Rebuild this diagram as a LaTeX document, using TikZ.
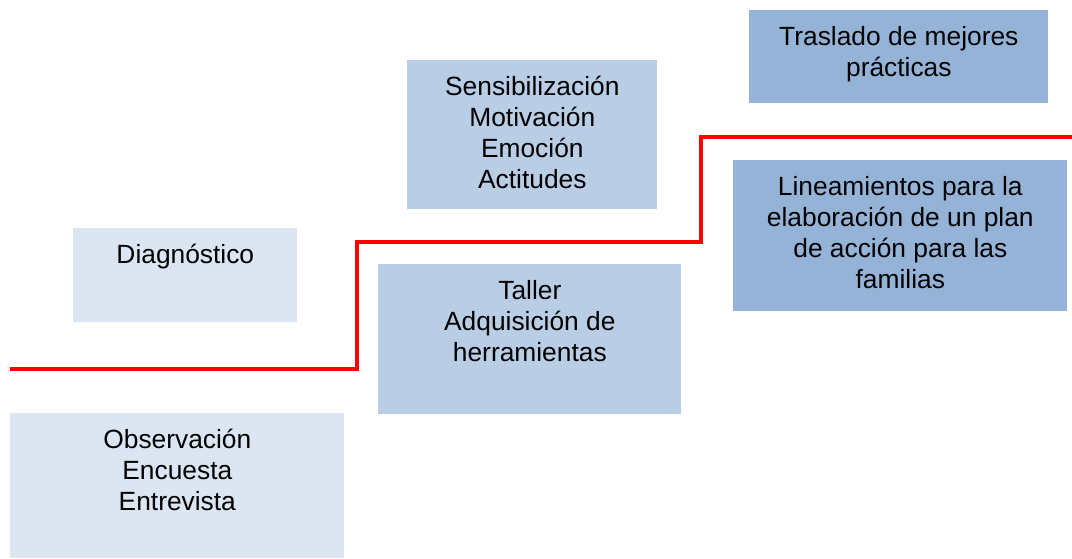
\documentclass[tikz,border=0pt]{standalone}
\usepackage{fontspec}
\setmainfont{Liberation Sans}
\usetikzlibrary{positioning}
\definecolor{boxa}{HTML}{DCE6F2}
\definecolor{boxb}{HTML}{B9CDE5}
\definecolor{boxc}{HTML}{95B3D7}
\begin{document}
\begin{tikzpicture}[x=0.02cm, y=-0.02cm,
  box/.style={draw=none, inner sep=0, anchor=north west},
  txt/.style={anchor=north, align=center, inner sep=0, font=\fontsize{15}{17.6}\selectfont},
  stair/.style={draw=red, line width=0.08cm}]
\useasboundingbox (0,0) rectangle (1072,558);
\node [box, fill=boxa, minimum width=4.48cm, minimum height=1.88cm] (0) at (73,228) {};
\node [box, fill=boxa, minimum width=6.68cm, minimum height=2.9cm] (1) at (10,413) {};
\node [box, fill=boxb, minimum width=5cm, minimum height=2.98cm] (2) at (407,60) {};
\node [box, fill=boxb, minimum width=6.06cm, minimum height=3cm] (3) at (378,264) {};
\node [box, fill=boxc, minimum width=5.98cm, minimum height=1.86cm] (4) at (749,10) {};
\node [box, fill=boxc, minimum width=6.68cm, minimum height=3.02cm] (5) at (733,160) {};
\node [txt, below=0.32cm of 0.north] (0t) {Diagnóstico};
\node [txt, below=0.32cm of 1.north] (1t) {Observación\\Encuesta\\Entrevista};
\node [txt, below=0.32cm of 2.north] (2t) {Sensibilización\\Motivación\\Emoción\\Actitudes};
\node [txt, below=0.32cm of 3.north] (3t) {Taller\\Adquisición de\\herramientas};
\node [txt, below=0.32cm of 4.north] (4t) {Traslado de mejores\\prácticas};
\node [txt, below=0.32cm of 5.north] (5t) {Lineamientos para la\\elaboración de un plan\\de acción para las\\familias};
\coordinate (6) at (10,369);
\coordinate (7) at (357,369);
\coordinate (8) at (357,242);
\coordinate (9) at (701,242);
\coordinate (10) at (701,137);
\coordinate (11) at (1072,137);
\draw [stair] (6) -- (7) -- (8) -- (9) -- (10) -- (11);
\end{tikzpicture}
\end{document}
